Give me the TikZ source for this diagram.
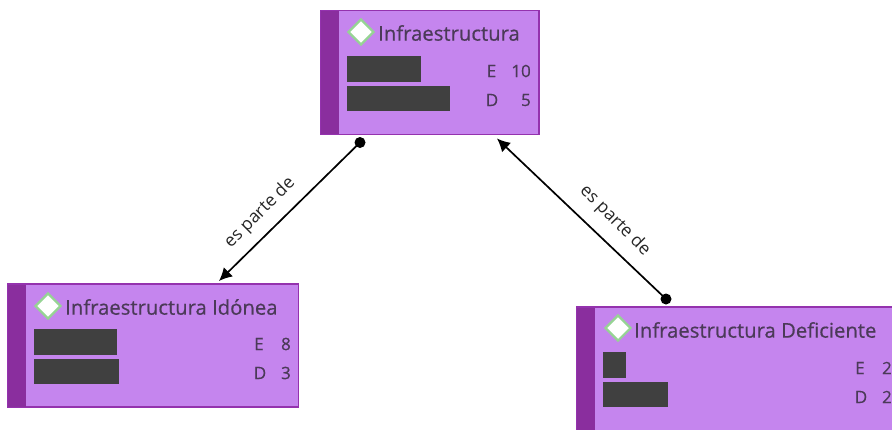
\documentclass[tikz,border=0pt]{standalone}
\usepackage{fontspec}
\setmainfont{Open Sans}
\newfontfamily\cardfont[FakeBold=0.6]{Open Sans}
\usetikzlibrary{arrows.meta,calc,shapes.geometric}
\definecolor{boxfill}{HTML}{C585EE}
\definecolor{boxbar}{HTML}{8A2E9E}
\definecolor{boxline}{HTML}{9432AE}
\definecolor{redact}{HTML}{404040}
\definecolor{titletext}{HTML}{4B3A58}
\definecolor{markline}{HTML}{96D494}
\tikzset{
  x=1pt,y=-1pt,
  cardbox/.style={draw=boxline,line width=1.4pt,fill=boxfill,rectangle,anchor=north west,inner sep=0pt,outer sep=0pt},
  cardbar/.style={fill=boxbar,rectangle,anchor=north west,inner sep=0pt,outer sep=0pt,minimum width=18pt},
  mark diamond/.style={diamond,aspect=1,draw=markline,line width=2.2pt,fill=white,inner sep=0pt,minimum size=26pt},
  titlelabel/.style={text=titletext,font=\cardfont\fontsize{20.3}{23}\selectfont,anchor=west,inner sep=0pt},
  countlabel/.style={text=titletext,font=\cardfont\fontsize{17}{20}\selectfont,inner sep=0pt},
  blockout/.style={fill=redact,rectangle,anchor=north west,inner sep=0pt,outer sep=0pt},
  linktext/.style={text=black!85,font=\fontsize{17.5}{20}\selectfont,inner sep=0pt},
  enddot/.style={circle,fill=black,inner sep=0pt,minimum size=11pt},
  linkline/.style={draw=black,line width=1.7pt},
}
\begin{document}
\begin{tikzpicture}
\useasboundingbox (0,0) rectangle (892,429);
% top card
\node[cardbox,minimum width=218pt,minimum height=124pt] (top) at (321,10.5) {};
\node[cardbar,minimum height=123pt] (topbar) at (321,11) {};
\node[mark diamond] (topmark) at (361,32) {};
\node[titlelabel] (toptitle) at (378,33) {Infraestructura};
\node[blockout,minimum width=74pt,minimum height=26pt] (topr1) at (347,56) {};
\node[blockout,minimum width=103pt,minimum height=25pt] (topr2) at (347,85.5) {};
\node[countlabel] (tope) at (491.5,71) {E};
\node[countlabel,anchor=east] (tope2) at (531,71) {10};
\node[countlabel] (topd) at (492,100) {D};
\node[countlabel,anchor=east] (topd2) at (531,100) {5};
% left card
\node[cardbox,minimum width=291pt,minimum height=123pt] (left) at (7.5,284) {};
\node[cardbar,minimum height=122pt] (leftbar) at (7.5,284.5) {};
\node[mark diamond] (leftmark) at (48,306) {};
\node[titlelabel] (lefttitle) at (65,307) {Infraestructura Idónea};
\node[blockout,minimum width=83pt,minimum height=26pt] (leftr1) at (33.5,329) {};
\node[blockout,minimum width=85.5pt,minimum height=25pt] (leftr2) at (33.5,359) {};
\node[countlabel] (lefte) at (259,344) {E};
\node[countlabel,anchor=east] (lefte2) at (291,344) {8};
\node[countlabel] (leftd) at (260,373) {D};
\node[countlabel,anchor=east] (leftd2) at (291,373) {3};
% right card
\node[cardbox,minimum width=340pt,minimum height=140pt] (right) at (576.5,307) {};
\node[cardbar,minimum height=139pt] (rightbar) at (576.5,307.5) {};
\node[mark diamond] (rightmark) at (618,328) {};
\node[titlelabel] (righttitle) at (634,330) {Infraestructura Deficiente};
\node[blockout,minimum width=23pt,minimum height=26pt] (rightr1) at (603,352) {};
\node[blockout,minimum width=64.5pt,minimum height=25pt] (rightr2) at (603,382) {};
\node[countlabel] (righte) at (860,368) {E};
\node[countlabel,anchor=east] (righte2) at (892,368) {2};
\node[countlabel] (rightd) at (861,397) {D};
\node[countlabel,anchor=east] (rightd2) at (892,397) {2};
% connectors
\node[enddot] (dotA) at ($(top.south west)+(39,8)$) {};
\coordinate (tipA) at ($(left.north west)+(211.5,-3)$);
\draw[linkline,-{Latex[length=13pt,width=13pt]}] (dotA.center) -- (tipA);
\node[enddot] (dotB) at ($(right.north west)+(89.5,-8)$) {};
\coordinate (tipB) at ($(top.south west)+(176,4)$);
\draw[linkline,-{Latex[length=13pt,width=13pt]}] (dotB.center) -- (tipB);
\node[linktext,rotate=45] (labelA) at (260,213) {es parte de};
\node[linktext,rotate=-45] (labelB) at (615,221) {es parte de};
\end{tikzpicture}
\end{document}
